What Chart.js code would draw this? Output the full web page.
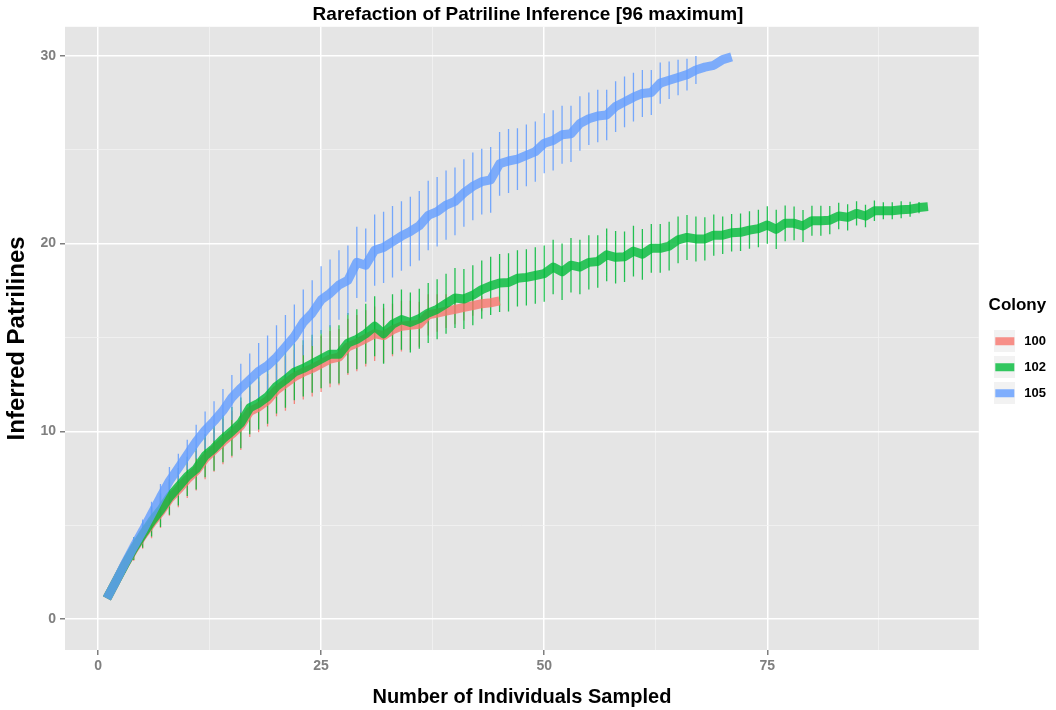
<!DOCTYPE html>
<html>
<head>
<meta charset="utf-8">
<script src="https://cdn.jsdelivr.net/npm/chart.js@4.4.1/dist/chart.umd.min.js"></script>
<style>
  html, body { margin: 0; padding: 0; background: #fff; }
  #wrap { width: 1056px; height: 710px; }
</style>
</head>
<body>
<div id="wrap"><canvas id="rarefaction-chart"></canvas></div>
<script>
// colonies shown in the legend
const colonies = ["100", "102", "105"];
const colonyColors = ["248,118,109", "0,186,56", "97,156,255"];

// mean inferred patrilines per sample size (x = 1, 2, 3 ...)
const mean100 = [1.1, 2.0, 2.9, 3.7, 4.45, 5.1, 5.7, 6.4, 6.9, 7.45,
  7.9, 8.55, 9.0, 9.45, 9.85, 10.3, 11.05, 11.3, 11.65, 12.2,
  12.55, 12.9, 13.15, 13.35, 13.6, 13.85, 13.95, 14.5, 14.7, 14.95,
  15.2, 15.1, 15.4, 15.6, 15.65, 15.7, 16.2, 16.3, 16.4, 16.5,
  16.6, 16.7, 16.8, 16.85, 16.95];
const mean102 = [1.1, 2.0, 2.9, 3.75, 4.5, 5.2, 5.8, 6.5, 7.05, 7.6,
  8.0, 8.7, 9.1, 9.6, 10.0, 10.45, 11.25, 11.5, 11.85, 12.4,
  12.75, 13.15, 13.35, 13.6, 13.85, 14.1, 14.1, 14.7, 14.9, 15.2,
  15.6, 15.2, 15.7, 15.95, 15.8, 16.0, 16.3, 16.5, 16.8, 17.1,
  17.05, 17.25, 17.55, 17.75, 17.9, 17.93, 18.15, 18.2, 18.3, 18.4,
  18.75, 18.5, 18.85, 18.75, 19.0, 19.05, 19.4, 19.27, 19.3, 19.6,
  19.43, 19.75, 19.75, 19.87, 20.2, 20.33, 20.25, 20.25, 20.45, 20.45,
  20.58, 20.6, 20.72, 20.8, 20.99, 20.76, 21.08, 21.08, 20.94, 21.22,
  21.22, 21.25, 21.47, 21.4, 21.61, 21.47, 21.75, 21.75, 21.75, 21.8,
  21.83, 21.92, 21.97];
const mean105 = [1.1, 2.0, 2.95, 3.85, 4.7, 5.6, 6.5, 7.35, 8.05, 8.75,
  9.45, 10.05, 10.55, 11.1, 11.8, 12.3, 12.75, 13.2, 13.5, 13.95,
  14.5, 15.05, 15.8, 16.3, 17.0, 17.35, 17.8, 18.05, 19.0, 18.85,
  19.65, 19.8, 20.1, 20.4, 20.65, 20.95, 21.5, 21.7, 22.05, 22.25,
  22.7, 23.05, 23.3, 23.4, 24.25, 24.4, 24.5, 24.7, 24.9, 25.35,
  25.5, 25.8, 25.85, 26.4, 26.65, 26.8, 26.85, 27.3, 27.55, 27.8,
  28.0, 28.05, 28.55, 28.7, 28.85, 29.0, 29.25, 29.4, 29.5, 29.8, 29.95];

// half-length of the error bars
const sd100 = [0, 0.3, 0.45, 0.6, 0.7, 0.8, 0.85, 0.9, 0.95, 1.0,
  1.05, 1.1, 1.15, 1.2, 1.25, 1.3, 1.35, 1.35, 1.4, 1.4,
  1.45, 1.45, 1.45, 1.5, 1.5, 1.5, 1.5, 1.5, 1.5, 1.5,
  1.45, 1.45, 1.4, 1.35, 1.3, 1.2, 1.1, 1.0, 0.9, 0.8,
  0.7, 0.55, 0.4, 0.2, 0];
const sd102 = [0, 0.3, 0.45, 0.6, 0.7, 0.8, 0.9, 0.95, 1.0, 1.05,
  1.1, 1.15, 1.2, 1.25, 1.3, 1.35, 1.4, 1.4, 1.45, 1.45,
  1.5, 1.5, 1.5, 1.55, 1.55, 1.55, 1.55, 1.6, 1.6, 1.6,
  1.6, 1.6, 1.6, 1.6, 1.6, 1.6, 1.6, 1.6, 1.6, 1.6,
  1.6, 1.6, 1.55, 1.55, 1.55, 1.55, 1.5, 1.5, 1.5, 1.5,
  1.45, 1.5, 1.45, 1.45, 1.45, 1.4, 1.4, 1.4, 1.35, 1.35,
  1.35, 1.3, 1.3, 1.3, 1.25, 1.2, 1.2, 1.15, 1.1, 1.0,
  1.0, 1.0, 1.0, 1.0, 1.0, 1.05, 0.95, 0.9, 0.85, 0.8,
  0.8, 0.75, 0.7, 0.7, 0.65, 0.6, 0.55, 0.45, 0.45, 0.45,
  0.4, 0.3, 0];
const sd105 = [0, 0.25, 0.4, 0.5, 0.6, 0.65, 0.7, 0.75, 0.75, 0.8,
  0.9, 1.0, 1.05, 1.15, 1.2, 1.3, 1.4, 1.5, 1.6, 1.7,
  1.7, 1.7, 1.75, 1.75, 1.8, 1.8, 1.85, 1.85, 1.9, 1.95,
  1.9, 1.9, 1.9, 1.85, 1.85, 1.85, 1.85, 1.85, 1.85, 1.8,
  1.8, 1.8, 1.75, 1.75, 1.7, 1.7, 1.65, 1.65, 1.6, 1.6,
  1.6, 1.55, 1.5, 1.45, 1.4, 1.4, 1.35, 1.35, 1.35, 1.3,
  1.25, 1.2, 1.1, 1.0, 0.95, 0.85, 0.75, 0, 0, 0, 0];

// axis ticks: labelled majors and unlabelled minors
const xMajor = [0, 25, 50, 75];
const xTicks = [0, 12.5, 25, 37.5, 50, 62.5, 75, 87.5];
const yMajor = [0, 10, 20, 30];
const yTicks = [0, 5, 10, 15, 20, 25, 30];

const means = [mean100, mean102, mean105];
const sds = [sd100, sd102, sd105];

function toPoints(arr) {
  return arr.map((y, i) => ({ x: i + 1, y: y }));
}

// each bar is two points followed by a gap
function toBars(m, s) {
  const pts = [];
  m.forEach((y, i) => {
    pts.push({ x: i + 1, y: y - s[i] });
    pts.push({ x: i + 1, y: y + s[i] });
    pts.push({ x: i + 1, y: null });
  });
  return pts;
}

// grey key square with a coloured bar, like ggplot
function keyIcon(rgb) {
  const c = document.createElement('canvas');
  c.width = 21; c.height = 22;
  const g = c.getContext('2d');
  g.fillStyle = '#f2f2f2';
  g.fillRect(0, 0, 21, 22);
  g.fillStyle = 'rgba(' + rgb + ',0.8)';
  g.fillRect(1, 7, 19, 8);
  return c;
}

const datasets = [];
// lines first (legend entries), drawn on top through `order`
colonies.forEach((name, k) => {
  datasets.push({
    label: name,
    data: toPoints(means[k]),
    borderColor: 'rgba(' + colonyColors[k] + ',0.8)',
    backgroundColor: 'rgba(' + colonyColors[k] + ',0.8)',
    borderWidth: 9,
    borderJoinStyle: 'round',
    pointRadius: 0,
    pointStyle: keyIcon(colonyColors[k]),
    tension: 0,
    order: 3 - k
  });
});
colonies.forEach((name, k) => {
  datasets.push({
    label: name + ' sd',
    data: toBars(means[k], sds[k]),
    borderColor: 'rgba(' + colonyColors[k] + ',0.85)',
    borderWidth: 1.3,
    pointRadius: 0,
    spanGaps: false,
    order: 6 - k
  });
});

const panelBg = {
  id: 'panelBg',
  beforeDraw(chart) {
    const a = chart.chartArea;
    const ctx = chart.ctx;
    ctx.save();
    ctx.fillStyle = '#e5e5e5';
    ctx.fillRect(a.left, a.top, a.right - a.left, a.bottom - a.top);
    ctx.restore();
  }
};

const fam = 'Liberation Sans, Arial, sans-serif';
const tickFont = { family: fam, size: 14, weight: 'bold' };

function gridOpts(major) {
  return {
    color: ctx => (ctx.tick && major.includes(ctx.tick.value)) ? '#ffffff' : '#f2f2f2',
    lineWidth: ctx => (ctx.tick && major.includes(ctx.tick.value)) ? 1.5 : 0.8,
    tickColor: ctx => (ctx.tick && major.includes(ctx.tick.value)) ? '#7f7f7f' : 'rgba(0,0,0,0)',
    tickLength: 5
  };
}

new Chart(document.getElementById('rarefaction-chart'), {
  type: 'line',
  data: { datasets: datasets },
  plugins: [panelBg],
  options: {
    responsive: true,
    maintainAspectRatio: false,
    animation: false,
    layout: { padding: 0 },
    plugins: {
      tooltip: { enabled: false },
      title: {
        display: true,
        text: 'Rarefaction of Patriline Inference [96 maximum]',
        color: '#000',
        font: { family: fam, size: 19, weight: 'bold' },
        padding: { top: 3, bottom: 1 }
      },
      legend: {
        position: 'right',
        title: {
          display: true,
          text: 'Colony',
          color: '#000',
          position: 'center',
          font: { family: fam, size: 17, weight: 'bold' },
          padding: { top: 0, bottom: 4 }
        },
        labels: {
          usePointStyle: true,
          pointStyleWidth: 26,
          color: '#000',
          font: { family: fam, size: 13, weight: 'bold' },
          padding: 13,
          filter: item => item.datasetIndex < 3,
          sort: (a, b) => a.datasetIndex - b.datasetIndex
        }
      }
    },
    scales: {
      x: {
        type: 'linear',
        min: -3.7,
        max: 98.7,
        afterBuildTicks: s => { s.ticks = xTicks.map(v => ({ value: v })); },
        afterFit: s => { s.height = 60; },
        border: { display: false },
        grid: gridOpts(xMajor),
        ticks: {
          color: '#7f7f7f',
          font: tickFont,
          padding: 3,
          maxRotation: 0,
          autoSkip: false,
          callback: v => xMajor.includes(v) ? String(v) : ''
        },
        title: {
          display: true,
          text: 'Number of Individuals Sampled',
          color: '#000',
          font: { family: fam, size: 20, weight: 'bold' },
          padding: { top: 0, bottom: 1 }
        }
      },
      y: {
        type: 'linear',
        min: -1.65,
        max: 31.55,
        afterBuildTicks: s => { s.ticks = yTicks.map(v => ({ value: v })); },
        afterFit: s => { s.width = 65; },
        border: { display: false },
        grid: gridOpts(yMajor),
        ticks: {
          color: '#7f7f7f',
          font: tickFont,
          padding: 4,
          autoSkip: false,
          callback: v => yMajor.includes(v) ? String(v) : ''
        },
        title: {
          display: true,
          text: 'Inferred Patrilines',
          color: '#000',
          font: { family: fam, size: 24, weight: 'bold' },
          padding: { top: 3, bottom: 0 }
        }
      }
    }
  }
});
</script>
</body>
</html>
